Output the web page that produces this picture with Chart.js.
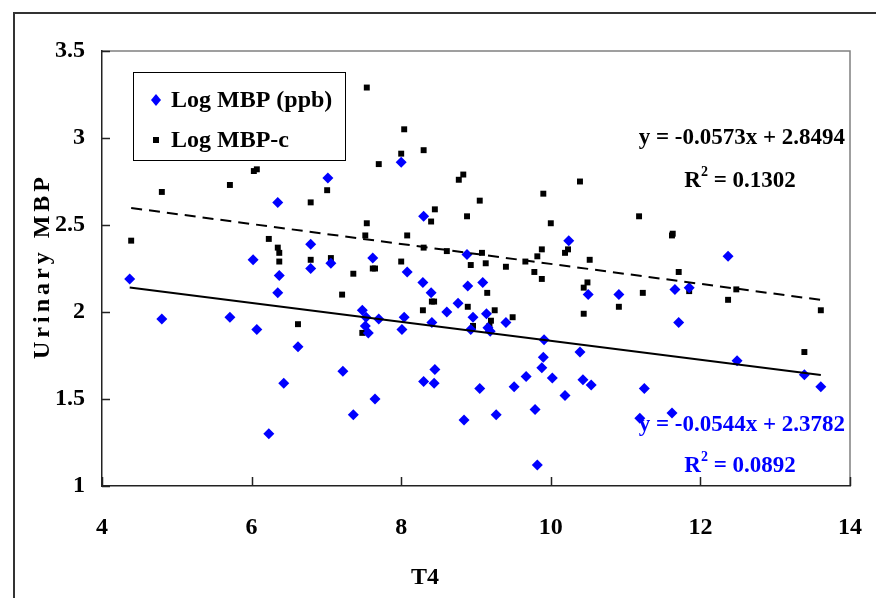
<!DOCTYPE html>
<html>
<head>
<meta charset="utf-8">
<script src="https://cdn.jsdelivr.net/npm/chart.js@4.4.0/dist/chart.umd.min.js"></script>
<style>
  html, body { margin: 0; padding: 0; background: #fff; }
  #wrap { width: 876px; height: 598px; }
</style>
</head>
<body>
<div id="wrap"><canvas id="myChart" width="876" height="598"></canvas></div>
<script>
// Log MBP (ppb) - blue diamonds
const mbpX = [4.37, 4.80, 5.71, 6.02, 6.07, 6.23, 6.35, 6.35, 6.37, 6.43, 6.62, 6.79, 6.79, 7.02, 7.06,
  7.22, 7.36, 7.48, 7.52, 7.53, 7.56, 7.62, 7.65, 7.70, 8.00, 8.01, 8.04, 8.08, 8.29, 8.30, 8.30,
  8.40, 8.41, 8.44, 8.45, 8.61, 8.76, 8.84, 8.88, 8.89, 8.93, 8.96, 9.05, 9.09, 9.14, 9.16, 9.19,
  9.27, 9.40, 9.51, 9.67, 9.79, 9.82, 9.88, 9.90, 9.91, 10.02, 10.19, 10.24, 10.39, 10.43, 10.50,
  10.54, 10.91, 11.19, 11.25, 11.62, 11.66, 11.71, 11.85, 12.37, 12.49, 13.39, 13.61];
const mbpY = [2.19, 1.96, 1.97, 2.30, 1.90, 1.30, 2.63, 2.11, 2.21, 1.59, 1.80, 2.39, 2.25, 2.77, 2.28,
  1.66, 1.41, 2.01, 1.92, 1.97, 1.88, 2.31, 1.50, 1.96, 2.86, 1.90, 1.97, 2.23, 2.17, 2.55, 1.60,
  2.11, 1.94, 1.59, 1.67, 2.00, 2.05, 1.38, 2.33, 2.15, 1.90, 1.97, 1.56, 2.17, 1.99, 1.91, 1.89,
  1.41, 1.94, 1.57, 1.63, 1.44, 1.12, 1.68, 1.74, 1.84, 1.62, 1.52, 2.41, 1.77, 1.61, 2.10,
  1.58, 2.10, 1.39, 1.56, 1.42, 2.13, 1.94, 2.14, 2.32, 1.72, 1.64, 1.57];

// Log MBP-c - black squares
const mbpcX = [4.39, 4.80, 5.71, 6.03, 6.07, 6.23, 6.35, 6.37, 6.37, 6.62, 6.79, 6.79, 7.01, 7.06, 7.21,
  7.36, 7.48, 7.52, 7.54, 7.54, 7.62, 7.65, 7.70, 8.00, 8.00, 8.04, 8.08, 8.29, 8.30, 8.30, 8.40,
  8.41, 8.44, 8.45, 8.61, 8.77, 8.83, 8.88, 8.89, 8.93, 8.96, 9.05, 9.08, 9.13, 9.15, 9.18, 9.20,
  9.25, 9.40, 9.49, 9.66, 9.78, 9.82, 9.88, 9.88, 9.90, 10.00, 10.19, 10.23, 10.39, 10.44, 10.44,
  10.49, 10.52, 10.91, 11.18, 11.23, 11.62, 11.63, 11.71, 11.85, 12.37, 12.48, 13.39, 13.61];
const mbpcY = [2.41, 2.69, 2.73, 2.81, 2.82, 2.42, 2.37, 2.34, 2.29, 1.93, 2.63, 2.30, 2.70, 2.31, 2.10,
  2.22, 1.88, 2.44, 2.51, 3.29, 2.25, 2.25, 2.85, 2.91, 2.29, 3.05, 2.44, 2.01, 2.93, 2.37, 2.52,
  2.06, 2.06, 2.59, 2.35, 2.76, 2.79, 2.55, 2.03, 2.27, 1.92, 2.64, 2.34, 2.28, 2.11, 1.92, 1.95,
  2.01, 2.26, 1.97, 2.29, 2.23, 2.32, 2.36, 2.19, 2.68, 2.51, 2.34, 2.36, 2.75, 2.14, 1.99,
  2.17, 2.30, 2.03, 2.55, 2.11, 2.44, 2.45, 2.23, 2.12, 2.07, 2.13, 1.77, 2.01];

const seriesNames = ['Log MBP (ppb)', 'Log MBP-c'];
const fitSlopes = [-0.0544, -0.0573];
const fitIntercepts = [2.3782, 2.8494];
const fitR2 = ['0.0892', '0.1302'];

const xTicks = [4, 6, 8, 10, 12, 14];
const yTicks = [1, 1.5, 2, 2.5, 3, 3.5];

const SERIF = "'Liberation Serif', 'Times New Roman', serif";

const toPoints = (xs, ys) => xs.map((x, i) => ({ x: x, y: ys[i] }));

// trend line over the data's x range, from the equation shown on the chart
const fitLine = (xs, k) => {
  const lo = Math.min(...xs), hi = Math.max(...xs);
  return [lo, hi].map(x => ({ x: x, y: fitSlopes[k] * x + fitIntercepts[k] }));
};

const decorations = {
  id: 'decorations',
  beforeDraw(chart) {
    const ctx = chart.ctx;
    const a = chart.chartArea;
    ctx.save();
    // outer frame (left and top edges visible)
    ctx.strokeStyle = '#333';
    ctx.lineWidth = 2;
    ctx.beginPath();
    ctx.moveTo(14, 600);
    ctx.lineTo(14, 13);
    ctx.lineTo(880, 13);
    ctx.stroke();
    // plot area border top/right
    ctx.strokeStyle = '#808080';
    ctx.lineWidth = 1.5;
    ctx.beginPath();
    ctx.moveTo(a.left, a.top);
    ctx.lineTo(a.right, a.top);
    ctx.lineTo(a.right, a.bottom);
    ctx.stroke();
    ctx.restore();
  },
  afterDraw(chart) {
    const ctx = chart.ctx;
    const a = chart.chartArea;
    const xs = chart.scales.x, ys = chart.scales.y;
    ctx.save();

    // inward tick marks
    ctx.strokeStyle = '#222';
    ctx.lineWidth = 1.5;
    ctx.beginPath();
    xTicks.forEach(v => {
      const px = Math.round(xs.getPixelForValue(v)) + 0.5;
      ctx.moveTo(px, a.bottom);
      ctx.lineTo(px, a.bottom - 9);
    });
    yTicks.forEach(v => {
      const py = Math.round(ys.getPixelForValue(v)) + 0.5;
      ctx.moveTo(a.left, py);
      ctx.lineTo(a.left + 8, py);
    });
    ctx.stroke();

    // legend box
    ctx.fillStyle = '#fff';
    ctx.fillRect(133, 72, 212, 88);
    ctx.strokeStyle = '#000';
    ctx.lineWidth = 1;
    ctx.strokeRect(133.5, 72.5, 212, 88);
    ctx.fillStyle = '#0000ff';
    ctx.beginPath();
    ctx.moveTo(156, 94); ctx.lineTo(161, 100); ctx.lineTo(156, 106); ctx.lineTo(151, 100);
    ctx.closePath();
    ctx.fill();
    ctx.fillStyle = '#000';
    ctx.fillRect(153, 137, 6, 6);
    ctx.font = 'bold 24px ' + SERIF;
    ctx.textAlign = 'left';
    ctx.textBaseline = 'middle';
    ctx.fillText(seriesNames[0], 171, 101);
    ctx.fillText(seriesNames[1], 171, 141);

    // regression equations
    const eq = k => 'y = ' + fitSlopes[k].toFixed(4) + 'x + ' + fitIntercepts[k].toFixed(4);
    const drawR2 = (val, cx, cy, color) => {
      ctx.fillStyle = color;
      ctx.font = 'bold 23px ' + SERIF;
      const w1 = ctx.measureText('R').width;
      const rest = ' = ' + val;
      const w3 = ctx.measureText(rest).width;
      ctx.font = 'bold 14px ' + SERIF;
      const w2 = ctx.measureText('2').width;
      let x = cx - (w1 + w2 + w3) / 2;
      ctx.textAlign = 'left';
      ctx.font = 'bold 23px ' + SERIF;
      ctx.fillText('R', x, cy);
      ctx.font = 'bold 14px ' + SERIF;
      ctx.fillText('2', x + w1, cy - 9);
      ctx.font = 'bold 23px ' + SERIF;
      ctx.fillText(rest, x + w1 + w2, cy);
    };
    ctx.textBaseline = 'middle';
    ctx.font = 'bold 23px ' + SERIF;
    ctx.textAlign = 'right';
    ctx.fillStyle = '#000';
    ctx.fillText(eq(1), 845, 138);
    drawR2(fitR2[1], 740, 181, '#000');
    ctx.font = 'bold 23px ' + SERIF;
    ctx.textAlign = 'right';
    ctx.fillStyle = '#0000ff';
    ctx.fillText(eq(0), 845, 425);
    drawR2(fitR2[0], 740, 466, '#0000ff');

    // axis titles
    ctx.fillStyle = '#000';
    ctx.font = 'bold 24px ' + SERIF;
    ctx.textAlign = 'center';
    ctx.textBaseline = 'middle';
    ctx.fillText('T4', 425, 578);
    ctx.translate(43, 268);
    ctx.rotate(-Math.PI / 2);
    ctx.letterSpacing = '4px';
    ctx.fillText('Urinary MBP', 2, 0);
    ctx.restore();
  }
};

const ctx = document.getElementById('myChart');
new Chart(ctx, {
  type: 'scatter',
  data: {
    datasets: [{
      type: 'line',
      label: 'fit MBP',
      data: fitLine(mbpX, 0),
      borderColor: '#000',
      borderWidth: 2,
      pointRadius: 0,
      fill: false
    }, {
      type: 'line',
      label: 'fit MBP-c',
      data: fitLine(mbpcX, 1),
      borderColor: '#000',
      borderWidth: 2,
      borderDash: [11, 7],
      pointRadius: 0,
      fill: false
    }, {
      label: seriesNames[0],
      data: toPoints(mbpX, mbpY),
      pointStyle: 'rectRot',
      pointRadius: 5.5,
      backgroundColor: '#0000ff',
      borderColor: '#0000ff',
      borderWidth: 0
    }, {
      label: seriesNames[1],
      data: toPoints(mbpcX, mbpcY),
      pointStyle: 'rect',
      pointRadius: 4.2,
      backgroundColor: '#000',
      borderColor: '#000',
      borderWidth: 0
    }]
  },
  options: {
    responsive: false,
    animation: false,
    layout: { autoPadding: false, padding: { top: 51, right: 26, left: 0, bottom: 0 } },
    plugins: {
      legend: { display: false },
      tooltip: { enabled: false }
    },
    scales: {
      x: {
        type: 'linear',
        min: 4,
        max: 14,
        afterFit(scale) { scale.height = 112; scale.paddingLeft = 0; scale.paddingRight = 0; },
        afterBuildTicks(scale) { scale.ticks = xTicks.map(v => ({ value: v })); },
        grid: { display: false, drawTicks: false },
        border: { display: true, color: '#222', width: 1.5 },
        ticks: {
          padding: 27,
          color: '#000',
          callback: v => String(v),
          font: { family: SERIF, size: 24, weight: 'bold' }
        }
      },
      y: {
        type: 'linear',
        min: 1,
        max: 3.5,
        afterFit(scale) { scale.width = 102; scale.paddingTop = 0; scale.paddingBottom = 0; },
        afterBuildTicks(scale) { scale.ticks = yTicks.map(v => ({ value: v })); },
        grid: { display: false, drawTicks: false },
        border: { display: true, color: '#222', width: 1.5 },
        ticks: {
          padding: 17,
          color: '#000',
          callback: v => String(v),
          font: { family: SERIF, size: 24, weight: 'bold' }
        }
      }
    }
  },
  plugins: [decorations]
});
</script>
</body>
</html>
